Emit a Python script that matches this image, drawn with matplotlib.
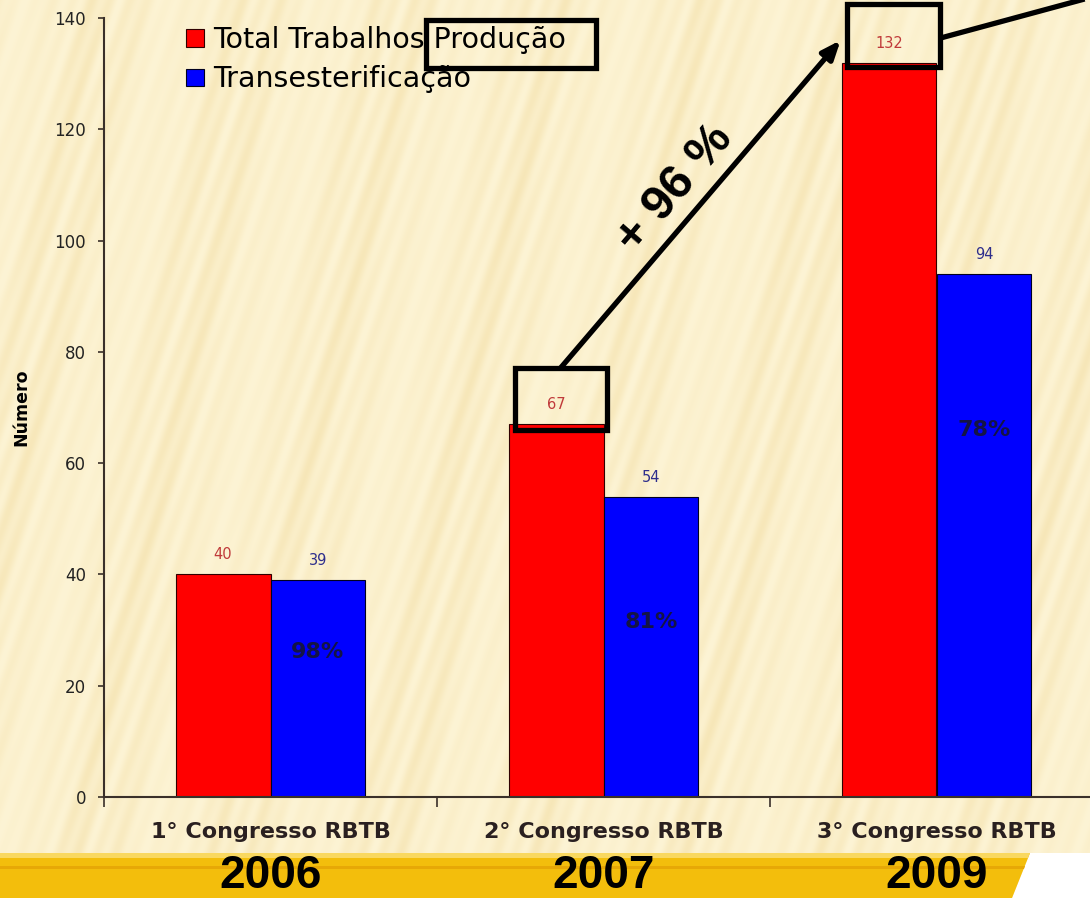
import numpy as np
import matplotlib.pyplot as plt
import matplotlib as mpl
from matplotlib.patches import Rectangle, Polygon

mpl.rcParams['font.family'] = ['DejaVu Sans']

# dados do gráfico
congressos = ['1° Congresso RBTB', '2° Congresso RBTB', '3° Congresso RBTB']
anos = ['2006', '2007', '2009']
total_producao = [40, 67, 132]
transesterificacao = [39, 54, 94]
percentuais = ['98%', '81%', '78%']
pos_percentual = [26, 31.5, 66]   # altura do texto dentro da barra azul

W, H = 1090, 898
fig = plt.figure(figsize=(W / 100, H / 100), dpi=100)

# fundo bege com listras diagonais suaves
fundo = fig.add_axes([0, 0, 1, 1], zorder=0)
yy, xx = np.mgrid[0:H, 0:W]
fina = 0.5 + 0.5 * np.sin(2 * np.pi * (xx - 0.35 * (H - yy)) / 19.0)
larga = 0.5 + 0.5 * np.sin(2 * np.pi * (xx - 0.25 * (H - yy)) / 47.0)
envelope = 0.35 + 0.65 * np.sin(2 * np.pi * (xx - 0.2 * (H - yy)) / 300.0) ** 2
onda = (0.55 * fina + 0.45 * larga) * envelope
claro = np.array([253, 244, 213]) / 255
escuro = np.array([244, 225, 172]) / 255
img = claro + (escuro - claro) * onda[..., None] * 0.7
fundo.imshow(img, extent=(0, W, H, 0), aspect='auto', interpolation='bilinear')
# faixa dourada dos anos e canto branco
fundo.add_patch(Polygon([(W, 853), (W, H), (1012, H), (1030, 853)], closed=True,
                        facecolor='white', edgecolor='none'))
fundo.add_patch(Polygon([(0, 853), (1030, 853), (1012, H), (0, H)], closed=True,
                        facecolor='#F3BE0C', edgecolor='none'))
fundo.add_patch(Polygon([(0, 853), (1030, 853), (1028, 858), (0, 858)], closed=True,
                        facecolor='#F9D860', edgecolor='none'))
fundo.add_patch(Polygon([(0, 866), (1025, 866), (1024, 869), (0, 869)], closed=True,
                        facecolor='#E7A806', edgecolor='none'))
fundo.set_xlim(0, W)
fundo.set_ylim(H, 0)
fundo.axis('off')

# eixo principal
ax = fig.add_axes([104 / W, 101 / H, (W - 104) / W, 779 / H], zorder=1)
ax.patch.set_alpha(0)

x = np.arange(len(congressos))
larg = 0.285
b1 = ax.bar(x - larg / 2, total_producao, larg, color='#FF0000', edgecolor='#300000',
            linewidth=0.8, label='Total Trabalhos Produção')
b2 = ax.bar(x + larg / 2, transesterificacao, larg, color='#0000FF', edgecolor='#000020',
            linewidth=0.8, label='Transesterificação')

for xi, v in zip(x - larg / 2, total_producao):
    ax.annotate(str(v), (xi, v), xytext=(0, 14), textcoords='offset points',
                ha='center', va='center', fontsize=10.5, color='#C03A3A')
for xi, v in zip(x + larg / 2, transesterificacao):
    ax.annotate(str(v), (xi, v), xytext=(0, 14), textcoords='offset points',
                ha='center', va='center', fontsize=10.5, color='#2E2E8C')
for xi, p, yp in zip(x + larg / 2, percentuais, pos_percentual):
    ax.text(xi, yp, p, ha='center', va='center', fontsize=16, fontweight='bold',
            color='#141445')

ax.set_ylim(0, 140)
ax.set_xlim(-0.5, -0.5 + (W - 104) / 333)
ax.set_yticks(range(0, 141, 20))
ax.tick_params(axis='y', direction='out', length=4, width=1.2, labelsize=12,
               colors='#3a302a', labelcolor='#222222', pad=9)
ax.set_ylabel('Número', fontsize=12.5, fontweight='bold', labelpad=17)

ax.set_xticks([-0.5, 0.5, 1.5])
ax.set_xticklabels([])
ax.tick_params(axis='x', which='major', direction='out', length=7, width=1.2,
               colors='#3a302a')
ax.set_xticks(x, minor=True)
ax.set_xticklabels(congressos, minor=True, fontsize=16, fontweight='bold',
                   color='#2a2020')
ax.tick_params(axis='x', which='minor', length=0, pad=18)

for lado in ['top', 'right']:
    ax.spines[lado].set_visible(False)
for lado in ['left', 'bottom']:
    ax.spines[lado].set_color('#3a302a')
    ax.spines[lado].set_linewidth(1.5)

# anos na faixa dourada
for xi, ano in zip(x, anos):
    ax.annotate(ano, (xi, 22), xycoords=('data', 'figure pixels'), ha='center',
                va='center', fontsize=33, fontweight='bold', color='black',
                family=['Liberation Sans'], annotation_clip=False)

leg = ax.legend(loc='upper left', bbox_to_anchor=(186 / W, 1 - 26 / H),
                bbox_transform=fig.transFigure, frameon=False, fontsize=20.5,
                handlelength=0.62, handleheight=0.55, handletextpad=0.35,
                labelspacing=0.4, borderpad=0, borderaxespad=0)

# destaques: caixas pretas e seta de crescimento
caixa = dict(fill=False, edgecolor='black', linewidth=3.8, clip_on=False, zorder=5)
ax.add_patch(Rectangle((426 / W, 1 - 68 / H), 170 / W, 48 / H,
                       transform=fig.transFigure, **caixa))
ax.add_patch(Rectangle((0.733, 66.0), 0.279, 11.1, **caixa))
ax.add_patch(Rectangle((1.73, 131.2), 0.282, 11.3, **caixa))

ax.annotate('', xy=(1.712, 136.0), xytext=(0.871, 77.1),
            arrowprops=dict(arrowstyle='-|>,head_length=1.1,head_width=0.45',
                            color='black', lw=3.8, shrinkA=0, shrinkB=0),
            annotation_clip=False, zorder=6)
ax.plot([2.012, 2.45], [136.4, 143.5], color='black', lw=3.8, clip_on=False,
        solid_capstyle='butt', zorder=6)
ax.text(1.216, 109.3, '+ 96 %', rotation=49.5, rotation_mode='anchor',
        ha='center', va='center', fontsize=35, fontweight='bold', color='black',
        family=['Liberation Sans'])

fig.savefig('out.png', dpi=100)
